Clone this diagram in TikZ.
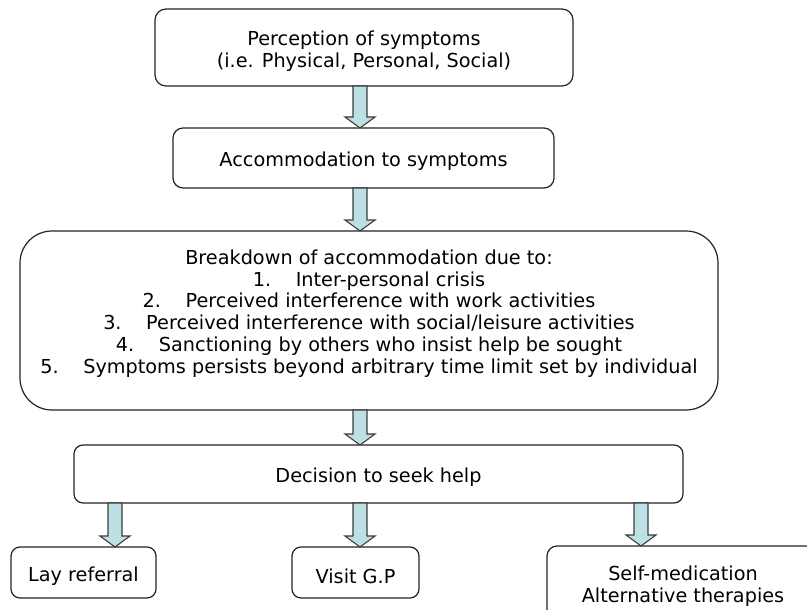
\documentclass[tikz,border=0pt]{standalone}
\usepackage{fontspec}
\setmainfont{DejaVu Sans}
\usetikzlibrary{calc}

\definecolor{boxline}{RGB}{35,35,35}
\definecolor{arrowline}{RGB}{60,60,60}
\definecolor{arrowfill}{RGB}{188,224,228}

\tikzset{
  stage/.style={draw=boxline, line width=1.2pt, rounded corners=#1,
    inner sep=0pt, outer sep=0pt},
  stage/.default=11pt,
  bodytext/.style={inner sep=0pt, align=center,
    font=\fontsize{19.25}{21.8}\selectfont},
  blockarrow/.style={draw=arrowline, line width=1.1pt, fill=arrowfill,
    line join=miter},
}

% Hollow block arrow at horizontal position #1 (pt), from the bottom of
% node #2 down to the top of node #3.
\newcommand{\flowarrow}[3]{%
  \draw[blockarrow] let \p1=(#2.south), \p2=(#3.north) in
    (#1pt-7pt,\y1) -- (#1pt+7pt,\y1) -- (#1pt+7pt,\y2+11pt)
    -- (#1pt+15pt,\y2+11pt) -- (#1pt,\y2) -- (#1pt-15pt,\y2+11pt)
    -- (#1pt-7pt,\y2+11pt) -- cycle;}

\newcommand{\numitem}[2]{\makebox[43pt][l]{#1}#2}

\begin{document}
\begin{tikzpicture}[x=1pt,y=-1pt]
  \useasboundingbox (0,0) rectangle (807,610);
  \clip (0,0) rectangle (807,610);

  % stages of the help-seeking process
  \node[stage, minimum width=418pt, minimum height=77pt] (percep) at (364,47.5) {};
  \node[bodytext] (perceptext) at ([yshift=-3.5pt]percep.center)
    {Perception of symptoms\\(i.e. Physical, Personal, Social)};

  \node[stage=10pt, minimum width=381pt, minimum height=60pt] (accom) at (363.5,158) {};
  \node[bodytext] (accomtext) at ([yshift=-3.5pt]accom.center)
    {Accommodation to symptoms};

  \node[stage=32pt, minimum width=698pt, minimum height=179pt] (breakdown) at (369,320.5) {};
  \node[bodytext] (breaktext) at ([yshift=7pt]breakdown.center)
    {Breakdown of accommodation due to:\\
     \numitem{1.}{Inter-personal crisis}\\
     \numitem{2.}{Perceived interference with work activities}\\
     \numitem{3.}{Perceived interference with social/leisure activities}\\
     \numitem{4.}{Sanctioning by others who insist help be sought}\\
     \numitem{5.}{Symptoms persists beyond arbitrary time limit set by individual}};

  \node[stage=9pt, minimum width=609pt, minimum height=58pt] (decide) at (378.5,474) {};
  \node[bodytext] (decidetext) at ([yshift=-3.5pt]decide.center)
    {Decision to seek help};

  % possible outcomes
  \node[stage=9pt, minimum width=145pt, minimum height=51pt] (lay) at (83.5,572.5) {};
  \node[bodytext] (laytext) at ([yshift=-3.5pt]lay.center) {Lay referral};

  \node[stage=9pt, minimum width=127pt, minimum height=51pt] (gp) at (355.5,572.5) {};
  \node[bodytext] (gptext) at ([yshift=-3.5pt]gp.center) {Visit G.P};

  \node[stage=10pt, minimum width=272pt, minimum height=73pt] (selfmed) at (683,582.5) {};
  \node[bodytext] (selfmedtext) at ([yshift=-3.5pt]selfmed.center)
    {Self-medication\\Alternative therapies};

  % arrows between the stages
  \flowarrow{360}{percep}{accom}
  \flowarrow{360}{accom}{breakdown}
  \flowarrow{360}{breakdown}{decide}
  \flowarrow{115}{decide}{lay}
  \flowarrow{360}{decide}{gp}
  \flowarrow{641}{decide}{selfmed}
\end{tikzpicture}
\end{document}
